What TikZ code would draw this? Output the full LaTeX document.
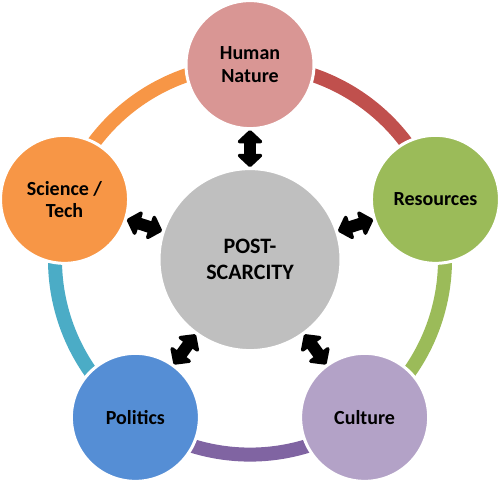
\documentclass[tikz,border=0pt]{standalone}
\usepackage{fontspec}
\setmainfont{Carlito}
\usetikzlibrary{arrows.meta}
\definecolor{hnfill}{HTML}{D99694}
\definecolor{redarc}{HTML}{C0504D}
\definecolor{grn}{HTML}{9BBB59}
\definecolor{culfill}{HTML}{B3A2C7}
\definecolor{purparc}{HTML}{8064A2}
\definecolor{polfill}{HTML}{558ED5}
\definecolor{tealarc}{HTML}{4BACC6}
\definecolor{orng}{HTML}{F79646}
\definecolor{cgray}{HTML}{BFBFBF}
\tikzset{
  ringarc/.style={line width=14pt},
  bub/.style={circle, draw=white, line width=3pt, minimum size=128pt, inner sep=0pt,
    align=center, font=\fontsize{20}{22.5}\selectfont\bfseries, text=black},
  centerbub/.style={circle, draw=white, line width=3pt, minimum size=182pt, inner sep=0pt,
    fill=cgray, align=center, font=\fontsize{22}{26}\selectfont\bfseries, text=black},
  dbl/.style={line width=12pt, black, line join=round,
    {Triangle[length=14pt,width=29pt,round]}-{Triangle[length=14pt,width=29pt,round]}}
}
\begin{document}
\begin{tikzpicture}[x=1pt,y=1pt]
\useasboundingbox (0,0) rectangle (501,483);
\coordinate (C) at (250,223.4);
% ring arcs
\draw[ringarc, redarc]  ([shift={(90:195)}]C)   arc[start angle=90,   end angle=18,   radius=195];
\draw[ringarc, grn]     ([shift={(18:195)}]C)   arc[start angle=18,   end angle=-54,  radius=195];
\draw[ringarc, purparc] ([shift={(-54:195)}]C)  arc[start angle=-54,  end angle=-126, radius=195];
\draw[ringarc, tealarc] ([shift={(-126:195)}]C) arc[start angle=-126, end angle=-198, radius=195];
\draw[ringarc, orng]    ([shift={(162:195)}]C)  arc[start angle=162,  end angle=90,   radius=195];
% outer circles
\node[bub, fill=hnfill]  (hn)  at ([shift={(90:195)}]C)   {Human\\Nature};
\node[bub, fill=grn]     (res) at ([shift={(18:195)}]C)   {Resources};
\node[bub, fill=culfill] (cul) at ([shift={(-54:195)}]C)  {Culture};
\node[bub, fill=polfill] (pol) at ([shift={(-126:195)}]C) {Politics};
\node[bub, fill=orng]    (sci) at ([shift={(162:195)}]C)  {Science /\\Tech};
% center
\node[centerbub] (ps) at (C) {POST-\\SCARCITY};
% arrows
\draw[dbl] (ps) -- (hn);
\draw[dbl] (ps) -- (res);
\draw[dbl] (ps) -- (cul);
\draw[dbl] (ps) -- (pol);
\draw[dbl] (ps) -- (sci);
\end{tikzpicture}
\end{document}
